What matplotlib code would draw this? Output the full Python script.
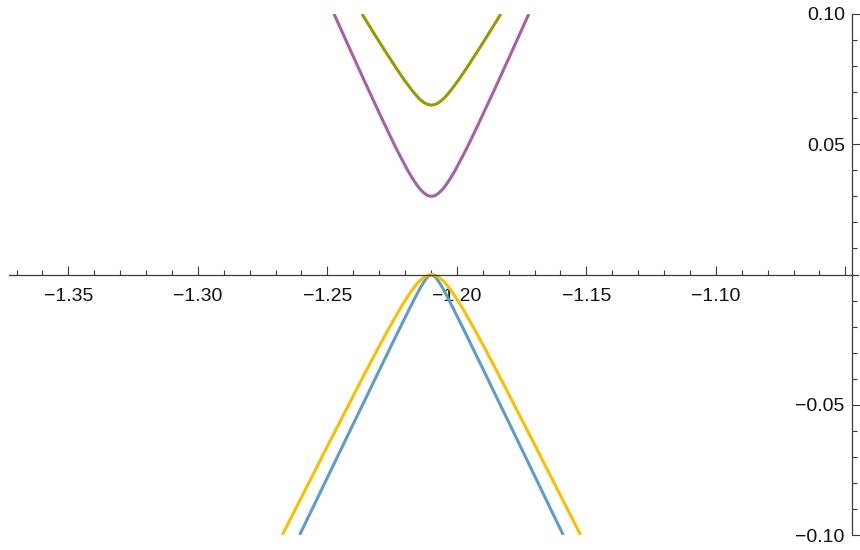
import matplotlib
matplotlib.use("Agg")
import matplotlib.pyplot as plt
from matplotlib.ticker import MultipleLocator, FixedLocator

plt.rcParams['font.family'] = ['Liberation Sans', 'DejaVu Sans']

# Lower branch (blue)
blue_x = [-1.2607, -1.2548, -1.2498, -1.2448, -1.2398, -1.2348, -1.2298, -1.2248,
          -1.2223, -1.2198, -1.2178, -1.2158, -1.2143, -1.2128, -1.2113, -1.2098,
          -1.2083, -1.2068, -1.2053, -1.2038, -1.2018, -1.1998, -1.1973, -1.1948,
          -1.1898, -1.1848, -1.1798, -1.1748, -1.1698, -1.1648, -1.1589]
blue_y = [-0.1000, -0.0879, -0.0776, -0.0673, -0.0570, -0.0468, -0.0365, -0.0263,
          -0.0212, -0.0162, -0.0122, -0.0083, -0.0055, -0.0030, -0.0009, 0.0000,
          -0.0009, -0.0030, -0.0055, -0.0083, -0.0122, -0.0162, -0.0212, -0.0263,
          -0.0365, -0.0468, -0.0570, -0.0673, -0.0776, -0.0879, -0.1000]

# Lower branch (yellow)
yellow_x = [-1.2674, -1.2598, -1.2548, -1.2498, -1.2448, -1.2398, -1.2348, -1.2298,
            -1.2258, -1.2238, -1.2218, -1.2203, -1.2188, -1.2173, -1.2158, -1.2143,
            -1.2128, -1.2113, -1.2098, -1.2083, -1.2068, -1.2053, -1.2038, -1.2023,
            -1.2008, -1.1993, -1.1978, -1.1958, -1.1938, -1.1898, -1.1848, -1.1798,
            -1.1748, -1.1698, -1.1648, -1.1598, -1.1522]
yellow_y = [-0.1000, -0.0852, -0.0754, -0.0656, -0.0559, -0.0462, -0.0366, -0.0272,
            -0.0199, -0.0164, -0.0130, -0.0105, -0.0082, -0.0060, -0.0041, -0.0024,
            -0.0011, -0.0003, 0.0000, -0.0003, -0.0011, -0.0024, -0.0041, -0.0060,
            -0.0082, -0.0105, -0.0130, -0.0164, -0.0199, -0.0272, -0.0366, -0.0462,
            -0.0559, -0.0656, -0.0754, -0.0852, -0.1000]

# Upper branch (purple)
purple_x = [-1.2474, -1.2398, -1.2348, -1.2298, -1.2278, -1.2258, -1.2238, -1.2218,
            -1.2203, -1.2188, -1.2173, -1.2158, -1.2143, -1.2128, -1.2113, -1.2098,
            -1.2083, -1.2068, -1.2053, -1.2038, -1.2023, -1.2008, -1.1993, -1.1978,
            -1.1958, -1.1938, -1.1918, -1.1898, -1.1848, -1.1798, -1.1722]
purple_y = [0.1000, 0.0833, 0.0724, 0.0617, 0.0575, 0.0533, 0.0492, 0.0453,
            0.0425, 0.0397, 0.0372, 0.0349, 0.0329, 0.0314, 0.0303, 0.0300,
            0.0303, 0.0314, 0.0329, 0.0349, 0.0372, 0.0397, 0.0425, 0.0453,
            0.0492, 0.0533, 0.0575, 0.0617, 0.0724, 0.0833, 0.1000]

# Upper branch (olive)
olive_x = [-1.2366, -1.2338, -1.2308, -1.2278, -1.2248, -1.2233, -1.2218, -1.2203,
           -1.2188, -1.2173, -1.2158, -1.2143, -1.2128, -1.2113, -1.2098, -1.2083,
           -1.2068, -1.2053, -1.2038, -1.2023, -1.2008, -1.1993, -1.1978, -1.1963,
           -1.1948, -1.1918, -1.1888, -1.1858, -1.1830]
olive_y = [0.1000, 0.0955, 0.0907, 0.0860, 0.0814, 0.0791, 0.0769, 0.0747,
           0.0727, 0.0707, 0.0689, 0.0673, 0.0661, 0.0653, 0.0650, 0.0653,
           0.0661, 0.0673, 0.0689, 0.0707, 0.0727, 0.0747, 0.0769, 0.0791,
           0.0814, 0.0860, 0.0907, 0.0955, 0.1000]

x_major = [-1.35, -1.30, -1.25, -1.20, -1.15, -1.10, -1.05]
x_labels = ["\u22121.35", "\u22121.30", "\u22121.25", "\u22121.20", "\u22121.15", "\u22121.10", ""]
y_major = [-0.10, -0.05, 0.05, 0.10]
y_labels = ["\u22120.10", "\u22120.05", "0.05", "0.10"]
y_minor = [-0.09, -0.08, -0.07, -0.06, -0.04, -0.03, -0.02, -0.01,
           0.01, 0.02, 0.03, 0.04, 0.06, 0.07, 0.08, 0.09]

x_min, x_max = -1.3729, -1.0451
y_axis_at = -1.0475

fig = plt.figure(figsize=(8.6, 5.5), dpi=100)
ax = fig.add_axes([9 / 860, 15 / 550, 849 / 860, 521 / 550])

style = dict(lw=2.2, solid_capstyle='butt', solid_joinstyle='round')
ax.plot(blue_x, blue_y, color='#5E9CC9', **style)
ax.plot(yellow_x, yellow_y, color='#FDBE00', **style)
ax.plot(olive_x, olive_y, color='#9A9A00', **style)
ax.plot(purple_x, purple_y, color='#A661A6', **style)

ax.set_xlim(x_min, x_max)
ax.set_ylim(-0.10, 0.10)

for s in ('top', 'right'):
    ax.spines[s].set_visible(False)
axis_col = '#3a3a3a'
ax.spines['bottom'].set_position(('data', 0.0))
ax.spines['left'].set_position(('data', y_axis_at))
for s in ('bottom', 'left'):
    ax.spines[s].set_color(axis_col)
    ax.spines[s].set_linewidth(0.9)

ax.xaxis.set_major_locator(FixedLocator(x_major))
ax.set_xticklabels(x_labels)
ax.xaxis.set_minor_locator(MultipleLocator(0.01))
ax.yaxis.set_major_locator(FixedLocator(y_major))
ax.set_yticklabels(y_labels)
ax.yaxis.set_minor_locator(FixedLocator(y_minor))

ax.tick_params(axis='both', which='both', direction='in', color=axis_col, width=0.8,
               labelsize=14, labelcolor='#111111')
ax.tick_params(axis='both', which='major', length=6.3)
ax.tick_params(axis='both', which='minor', length=3.6)
ax.tick_params(axis='x', which='major', pad=9.5)
ax.tick_params(axis='y', which='major', pad=5)

fig.savefig('out.png', dpi=100)
